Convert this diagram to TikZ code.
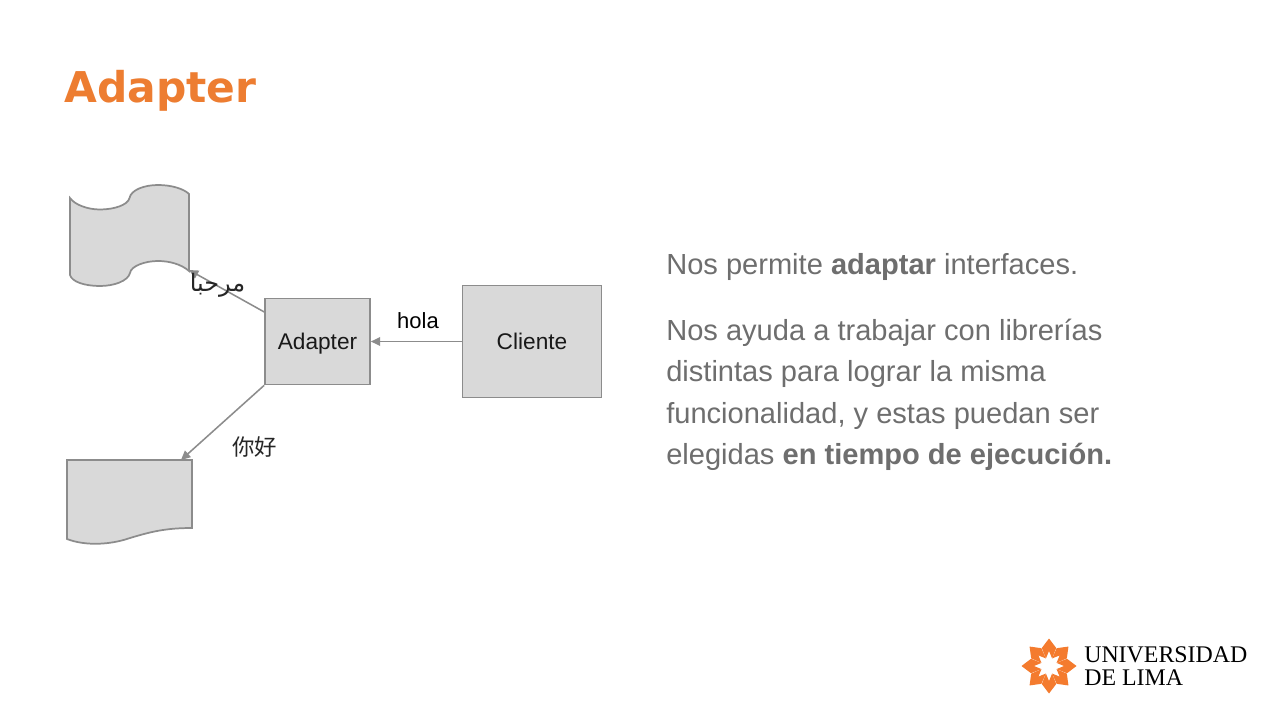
\documentclass[tikz,border=0pt]{standalone}
\usepackage{fontspec}
\setmainfont{Liberation Sans}
\newfontfamily\titlefont{DejaVu Sans}
\newfontfamily\serifont{Liberation Serif}
\newfontfamily\cjk{Noto Sans CJK SC}
\newfontfamily\arabicfont[Script=Arabic]{DejaVu Sans}
\TeXXeTstate=1
\usetikzlibrary{arrows.meta,calc}
\definecolor{orangeul}{HTML}{ED7D31}
\definecolor{petalorange}{HTML}{F47B2E}
\definecolor{shapefill}{HTML}{D9D9D9}
\definecolor{shapeline}{HTML}{8C8C8C}
\definecolor{bodytext}{HTML}{6E6E6E}
\definecolor{labeltext}{HTML}{262626}
\tikzset{
  x=0.75pt,y=-0.75pt,
  shapebox/.style={draw=shapeline,fill=shapefill,line width=1.3pt,inner sep=0pt,text=black!90,font=\fontsize{17}{18}\selectfont,text height=12pt,text depth=0pt},
  conn/.style={draw=shapeline,line width=1.15pt,-{Triangle[length=7pt,width=6.5pt]}},
  lab/.style={inner sep=0pt,text=labeltext},
  bodyline/.style={anchor=base west,inner sep=0pt,text=bodytext,font=\fontsize{21.8}{25}\selectfont},
  petal/.style={fill=petalorange,draw=none},
}
\begin{document}
\begin{tikzpicture}
\useasboundingbox (0,0) rectangle (1280,720);
\fill[white] (0,0) rectangle (1280,720);
\node[anchor=base west,inner sep=0pt,text=orangeul,font=\titlefont\bfseries\fontsize{31.8}{36}\selectfont] (title) at (64,102.5) {Adapter};
% shapes
\path[shapebox] (70,198) .. controls (75,205) and (88,209.5) .. (100,209.5) .. controls (114,209.5) and (128,205) .. (129.5,198) .. controls (131,190) and (144,185) .. (158,185) .. controls (172,185) and (184,189) .. (189,194) -- (189,271) .. controls (181,264) and (169,261) .. (158,261) .. controls (145,261) and (131,266) .. (130,273) .. controls (128,281) and (114,286) .. (100,286) .. controls (85,286) and (72,282) .. (70,275) -- cycle;
\path[shapebox] (67,460) -- (192,460) -- (192,528) .. controls (165,528) and (150,532) .. (130,538) .. controls (110,545) and (85,546) .. (67,539) -- cycle;
\coordinate (flagtip) at (189,270);
\coordinate (doctip) at (181,460);
\node[shapebox,minimum width=78.75pt,minimum height=64.5pt] (adapter) at (317.5,341.5) {Adapter};
\node[shapebox,minimum width=104.25pt,minimum height=84pt] (cliente) at (532,341.5) {Cliente};
\draw[conn] (cliente.west) -- (adapter.east);
\draw[conn] (adapter.151) -- (flagtip);
\draw[conn] (adapter.south west) -- (doctip);
\node[lab,font=\fontsize{16.5}{18}\selectfont,text=black] (hola) at (418,321) {hola};
\node[lab,font=\arabicfont\fontsize{18}{20}\selectfont] (ar) at (217.5,285) {\beginR مرحبا\endR};
\node[lab,font=\cjk\fontsize{16.8}{18}\selectfont] (zh) at (254.5,447) {你好};
% text
\node[bodyline] (t1) at (666,274) {Nos permite \textbf{adaptar} interfaces.};
\node[bodyline] (t2) at (666,340) {Nos ayuda a trabajar con librerías};
\node[bodyline] (t3) at (666,381) {distintas para lograr la misma};
\node[bodyline] (t4) at (666,423) {funcionalidad, y estas puedan ser};
\node[bodyline] (t5) at (666,464) {elegidas \textbf{en tiempo de ejecución.}};
% logo
\begin{scope}[shift={(1049,666)}]
\foreach \a in {0,45,...,315}
  \fill[petal,rotate=\a] (0,-27.5) -- (7.2,-18) -- (3.1,-7.6) -- (0,-15) -- (-3.1,-7.6) -- (-7.2,-18) -- cycle;
\end{scope}
\node[anchor=base west,inner sep=0pt,text=black,font=\serifont\fontsize{17.9}{18}\selectfont] (u1) at (1084,662) {UNIVERSIDAD};
\node[anchor=base west,inner sep=0pt,text=black,font=\serifont\fontsize{17.9}{18}\selectfont] (u2) at (1084,685) {DE LIMA};
\end{tikzpicture}
\end{document}
